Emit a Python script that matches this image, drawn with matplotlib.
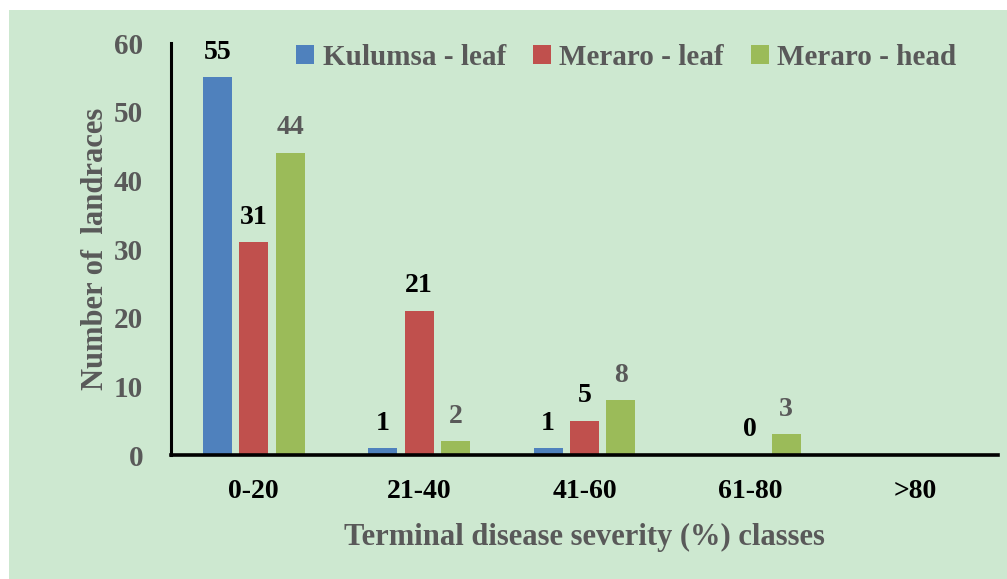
import matplotlib
matplotlib.use("Agg")
import matplotlib.pyplot as plt
import numpy as np
from matplotlib.patches import Rectangle

# data
classes = ["0-20", "21-40", "41-60", "61-80", ">80"]
kulumsa_leaf = [55, 1, 1, np.nan, np.nan]
meraro_leaf = [31, 21, 5, 0, np.nan]
meraro_head = [44, 2, 8, 3, np.nan]
series_names = ["Kulumsa - leaf", "Meraro - leaf", "Meraro - head"]
yticks = [0, 10, 20, 30, 40, 50, 60]

plt.rcParams["font.family"] = ["Liberation Serif", "DejaVu Serif"]
plt.rcParams["font.weight"] = "bold"
grey = "#595959"
bg = "#cde8d0"

fig = plt.figure(figsize=(10.07, 5.79), dpi=100)
fig.patch.set_facecolor("white")
fig.patches.append(Rectangle((9/1007, 0), 1, 1 - 10/579, transform=fig.transFigure,
                             facecolor=bg, edgecolor="none", zorder=-10))

ax = fig.add_axes([171/1007, 1 - 455/579, (998 - 171)/1007, (455 - 43)/579])
ax.set_facecolor("none")

x = np.arange(len(classes))
w = 0.175
off = 0.22
cols = ["#4f81bd", "#c0504d", "#9bbb59"]
lab_cols = ["black", "black", grey]
for i, (vals, c, name, lc) in enumerate(zip([kulumsa_leaf, meraro_leaf, meraro_head], cols, series_names, lab_cols)):
    pos = x + (i - 1) * off
    v = np.array(vals, dtype=float)
    ax.bar(pos, np.nan_to_num(v), width=w, color=c, label=name)
    for p, val in zip(pos, v):
        if not np.isnan(val):
            ax.annotate(f"{int(val)}", (p, val), xytext=(0, 9), textcoords="offset points",
                        ha="center", va="bottom", fontsize=20, fontweight="bold", color=lc)

ax.set_xlim(-0.5, len(classes) - 0.5)
ax.set_ylim(0, 60)
ax.set_yticks(yticks)
ax.set_xticks(x)
ax.set_xticklabels(classes)
ax.tick_params(axis="y", length=0, pad=20, labelsize=21, labelcolor=grey)
ax.tick_params(axis="x", length=0, pad=17, labelsize=20, labelcolor="black")
for lbl in ax.get_xticklabels() + ax.get_yticklabels():
    lbl.set_fontweight("bold")

for s in ["top", "right"]:
    ax.spines[s].set_visible(False)
ax.spines["left"].set_linewidth(2.2)
ax.spines["bottom"].set_linewidth(2.6)

ax.set_xlabel("Terminal disease severity (%) classes", fontsize=22, fontweight="bold",
              color=grey, labelpad=14)
ax.set_ylabel("Number of  landraces", fontsize=22, fontweight="bold", color=grey, labelpad=3)

leg = ax.legend(loc="upper left", bbox_to_anchor=(0.12, 1.062), ncol=3, frameon=False,
                handlelength=0.6, handleheight=0.6, handletextpad=0.3,
                columnspacing=0.93, labelcolor=grey, prop={"weight": "bold", "size": 21})

fig.savefig("out.png", dpi=100)
